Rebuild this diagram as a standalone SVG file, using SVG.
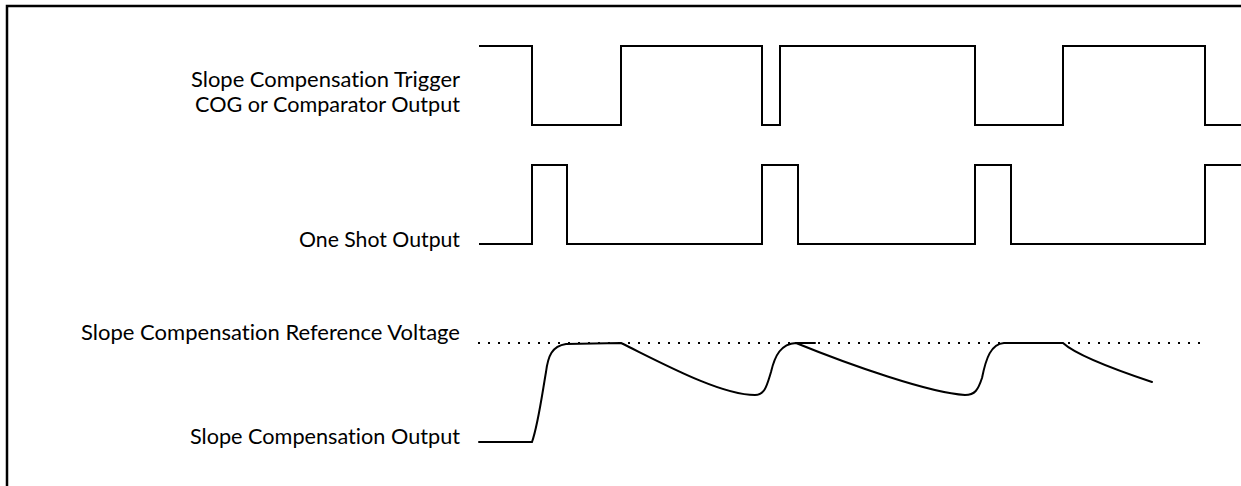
<svg xmlns="http://www.w3.org/2000/svg" width="1241" height="486" viewBox="0 0 1241 486">
<style>
.lbl{font-family:Lato,"Open Sans","Liberation Sans",sans-serif;font-size:22px;fill:#000;text-anchor:end;font-variant-ligatures:none}
.wave{fill:none;stroke:#000;stroke-width:2;stroke-linejoin:miter}
.curve{fill:none;stroke:#000;stroke-width:2;stroke-linecap:round}
.dots{fill:none;stroke:#000;stroke-width:2.2;stroke-dasharray:2 8}
</style>
<rect width="1241" height="486" fill="#fff"/>
<rect x="7" y="6" width="1400" height="600" fill="none" stroke="#000" stroke-width="2.5"/>
<g id="trigger">
<text class="lbl" x="460" y="87" textLength="269" lengthAdjust="spacingAndGlyphs">Slope Compensation Trigger</text>
<text class="lbl" x="460" y="112" textLength="265" lengthAdjust="spacingAndGlyphs">COG or Comparator Output</text>
<path class="wave" d="M479,46 H532 V125 H621 V46 H762 V125 H780 V46 H975 V125 H1063 V46 H1205 V125 H1242"/>
</g>
<g id="oneshot">
<text class="lbl" x="460" y="247" textLength="161" lengthAdjust="spacingAndGlyphs">One Shot Output</text>
<path class="wave" d="M479,244 H532 V165 H567 V244 H762 V165 H798 V244 H975 V165 H1011 V244 H1205 V165 H1242"/>
</g>
<g id="reference">
<text class="lbl" x="460" y="340" textLength="379" lengthAdjust="spacingAndGlyphs">Slope Compensation Reference Voltage</text>
<path class="dots" d="M478,343 H1200"/>
</g>
<g id="output">
<text class="lbl" x="460" y="444" textLength="270" lengthAdjust="spacingAndGlyphs">Slope Compensation Output</text>
<path class="curve" d="M479,442 L532,442 C538,425 542,395 546,372 C548,356 552,346 566,344 L621,343 C660,362 720,395 755,395 C765,395 767,385 771,372 C775,355 781,344 796,343 C850,365 930,393 965,395 C975,395 978,390 982,378 C986,358 991,344 1004,343 L1063,343 C1075,354 1110,368 1152,382"/>
<path class="curve" d="M796,343 L815,343"/>
</g>
</svg>
